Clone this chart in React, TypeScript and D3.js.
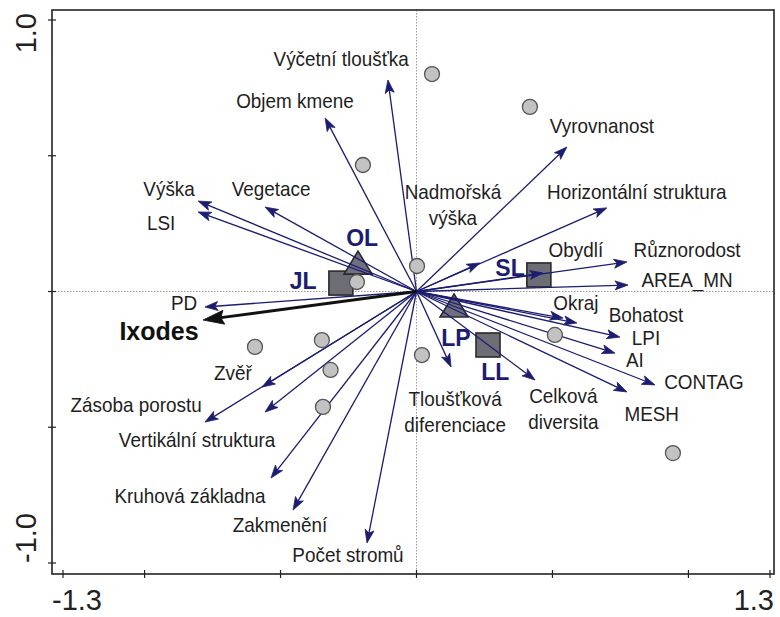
import React, { useEffect, useRef } from "react"
import * as d3 from "d3"

// environmental variables: arrow tip (x, y) and label anchor (lx, ly) in axis units
const envVectors = [
    { name: "Výčetní tloušťka", x: -0.105, y: 0.779, lx: -0.277, ly: 0.86 },
    { name: "Objem kmene", x: -0.336, y: 0.639, lx: -0.447, ly: 0.705 },
    { name: "Výška", x: -0.803, y: 0.333, lx: -0.91, ly: 0.381 },
    { name: "LSI", x: -0.803, y: 0.293, lx: -0.939, ly: 0.256 },
    { name: "Vegetace", x: -0.557, y: 0.311, lx: -0.535, ly: 0.378 },
    { name: "PD", x: -0.778, y: -0.057, lx: -0.855, ly: -0.039 },
    { name: "Zvěř", x: -0.568, y: -0.352, lx: -0.675, ly: -0.3 },
    { name: "Zásoba porostu", x: -0.778, y: -0.481, lx: -1.031, ly: -0.415 },
    { name: "Vertikální struktura", x: -0.557, y: -0.444, lx: -0.807, ly: -0.545 },
    { name: "Kruhová základna", x: -0.535, y: -0.687, lx: -0.833, ly: -0.75 },
    { name: "Zakmenění", x: -0.454, y: -0.805, lx: -0.502, ly: -0.857 },
    { name: "Počet stromů", x: -0.182, y: -0.926, lx: -0.252, ly: -0.967 },
    { name: "Tloušťková\ndiferenciace", x: 0.127, y: -0.278, lx: 0.142, ly: -0.393 },
    { name: "Celková\ndiversita", x: 0.436, y: -0.326, lx: 0.54, ly: -0.382 },
    { name: "MESH", x: 0.774, y: -0.37, lx: 0.865, ly: -0.451 },
    { name: "CONTAG", x: 0.877, y: -0.344, lx: 1.057, ly: -0.333 },
    { name: "AI", x: 0.73, y: -0.227, lx: 0.803, ly: -0.249 },
    { name: "LPI", x: 0.748, y: -0.168, lx: 0.844, ly: -0.171 },
    { name: "Bohatost", x: 0.59, y: -0.116, lx: 0.844, ly: -0.083 },
    { name: "Okraj", x: 0.539, y: -0.098, lx: 0.586, ly: -0.042 },
    { name: "AREA_MN", x: 0.778, y: 0.024, lx: 0.995, ly: 0.046 },
    { name: "Různorodost", x: 0.774, y: 0.109, lx: 0.995, ly: 0.156 },
    { name: "Obydlí", x: 0.465, y: 0.068, lx: 0.586, ly: 0.156 },
    { name: "Nadmořská\nvýška", x: 0.233, y: 0.105, lx: 0.134, ly: 0.37 },
    { name: "Horizontální struktura", x: 0.7, y: 0.308, lx: 0.81, ly: 0.37 },
    { name: "Vyrovnanost", x: 0.553, y: 0.532, lx: 0.682, ly: 0.61 },
]

// species vector
const species = [{ name: "Ixodes", x: -0.785, y: -0.105, lx: -0.947, ly: -0.145 }]

// sample scores
const sampleX = [0.057, 0.417, -0.197, 0.002, -0.219, -0.594, -0.348, -0.316, -0.344, 0.02, 0.509, 0.943]
const sampleY = [0.801, 0.68, 0.466, 0.094, 0.035, -0.204, -0.179, -0.289, -0.425, -0.234, -0.16, -0.595]

// habitat centroids
const centroids = [
    { name: "JL", shape: "square", x: -0.278, y: 0.031, lx: -0.417, ly: 0.039 },
    { name: "OL", shape: "triangle", x: -0.215, y: 0.101, lx: -0.2, ly: 0.199 },
    { name: "SL", shape: "square", x: 0.45, y: 0.061, lx: 0.344, ly: 0.087 },
    { name: "LP", shape: "triangle", x: 0.138, y: -0.057, lx: 0.145, ly: -0.171 },
    { name: "LL", shape: "square", x: 0.263, y: -0.197, lx: 0.29, ly: -0.295 },
]

const xTicks = [-1.3, -1.0, -0.5, 0, 0.5, 1.0, 1.3]
const yTicks = [-1.0, -0.5, 0, 0.5, 1.0]

const W = 780
const H = 617
const NAVY = "#1c1c70"
const FONT = "'Liberation Sans', Arial, Helvetica, sans-serif"

export default function App() {
    const ref = useRef(null)

    useEffect(() => {
        document.body.style.margin = "0"
        const svg = d3.select(ref.current)
        svg.selectAll("*").remove()

        const x = d3.scaleLinear().domain([-1.3, 1.3]).range([63, 770])
        const y = d3.scaleLinear().domain([-1, 1]).range([563, 20])

        const left = x(-1.3) - 11
        const right = x(1.3) + 4
        const top = y(1) - 10
        const bottom = y(-1) + 11

        svg.append("rect").attr("width", W).attr("height", H).attr("fill", "#fff")

        // dotted zero lines
        svg.append("line")
            .attr("x1", left).attr("x2", right)
            .attr("y1", y(0)).attr("y2", y(0))
            .attr("stroke", "#9a9a9a").attr("stroke-width", 1)
            .attr("stroke-dasharray", "1.5,1.5")
        svg.append("line")
            .attr("x1", x(0)).attr("x2", x(0))
            .attr("y1", top).attr("y2", bottom)
            .attr("stroke", "#9a9a9a").attr("stroke-width", 1)
            .attr("stroke-dasharray", "1.5,1.5")

        // frame
        svg.append("rect")
            .attr("x", left).attr("y", top)
            .attr("width", right - left).attr("height", bottom - top)
            .attr("fill", "none").attr("stroke", "#222").attr("stroke-width", 1.6)

        svg.append("g").selectAll("line").data(xTicks).enter().append("line")
            .attr("x1", (d) => x(d)).attr("x2", (d) => x(d))
            .attr("y1", bottom - 4).attr("y2", bottom + 4)
            .attr("stroke", "#222").attr("stroke-width", 1.2)
        svg.append("g").selectAll("line").data(yTicks).enter().append("line")
            .attr("x1", left - 4).attr("x2", left + 4)
            .attr("y1", (d) => y(d)).attr("y2", (d) => y(d))
            .attr("stroke", "#222").attr("stroke-width", 1.2)

        // axis end labels
        const axisText = svg.append("g")
            .attr("font-family", FONT).attr("font-size", 29).attr("fill", "#222")
        axisText.append("text").attr("x", left).attr("y", 610)
            .attr("text-anchor", "start").text("-1.3")
        axisText.append("text").attr("x", right).attr("y", 610)
            .attr("text-anchor", "end").text("1.3")
        axisText.append("text")
            .attr("transform", `translate(36,${top + 3}) rotate(-90)`)
            .attr("text-anchor", "end").text("1.0")
        axisText.append("text")
            .attr("transform", `translate(36,${y(-1)}) rotate(-90)`)
            .attr("text-anchor", "start").text("-1.0")

        // centroids
        const cg = svg.append("g")
        centroids.forEach((c) => {
            const cx = x(c.x)
            const cy = y(c.y)
            if (c.shape === "square") {
                cg.append("rect")
                    .attr("x", cx - 12).attr("y", cy - 12)
                    .attr("width", 24).attr("height", 24)
                    .attr("fill", "#6d6d76").attr("stroke", "#2a2a2a").attr("stroke-width", 1.6)
            } else {
                cg.append("path")
                    .attr("d", `M${cx},${cy - 13} L${cx + 14},${cy + 10} L${cx - 14},${cy + 10} Z`)
                    .attr("fill", "#6f6f80").attr("stroke", "#2a2a2a").attr("stroke-width", 1.6)
            }
        })

        const origin = [x(0), y(0)]
        const drawArrow = (g, tx, ty, color, width, len, half) => {
            const a = Math.atan2(ty - origin[1], tx - origin[0])
            const ca = Math.cos(a)
            const sa = Math.sin(a)
            const nx = tx - (len - 3) * ca
            const ny = ty - (len - 3) * sa
            g.append("line")
                .attr("x1", origin[0]).attr("y1", origin[1])
                .attr("x2", nx).attr("y2", ny)
                .attr("stroke", color).attr("stroke-width", width)
            const bx = tx - len * ca
            const by = ty - len * sa
            g.append("path")
                .attr("d",
                    `M${tx},${ty} L${bx - half * sa},${by + half * ca} L${nx},${ny} L${bx + half * sa},${by - half * ca} Z`)
                .attr("fill", color).attr("stroke", color).attr("stroke-width", 0.8)
        }

        const ag = svg.append("g")
        envVectors.forEach((v) => drawArrow(ag, x(v.x), y(v.y), NAVY, 1.3, 13, 4.5))
        species.forEach((s) => drawArrow(ag, x(s.x), y(s.y), "#111", 3, 21, 7))

        // samples
        svg.append("g").selectAll("circle").data(sampleX).enter().append("circle")
            .attr("cx", (d) => x(d))
            .attr("cy", (d, i) => y(sampleY[i]))
            .attr("r", 7.5)
            .attr("fill", "#c2c2c2").attr("stroke", "#555").attr("stroke-width", 1.3)

        // variable labels (narrow sans, as in the source figure)
        const lg = svg.append("g")
            .attr("font-family", FONT).attr("font-size", 21).attr("fill", "#1e1e1e")
        envVectors.forEach((v) => {
            const lines = v.name.split("\n")
            const t = lg.append("text")
                .attr("transform", `translate(${x(v.lx)},${y(v.ly)}) scale(0.9,1)`)
                .attr("text-anchor", "middle")
            lines.forEach((ln, i) => {
                t.append("tspan").attr("x", 0).attr("y", 7.5 + i * 26).text(ln)
            })
        })

        species.forEach((s) => {
            svg.append("text")
                .attr("x", x(s.lx)).attr("y", y(s.ly) + 9)
                .attr("text-anchor", "middle")
                .attr("font-family", FONT).attr("font-size", 25)
                .attr("font-weight", "bold").attr("fill", "#111")
                .text(s.name)
        })

        svg.append("g").selectAll("text").data(centroids).enter().append("text")
            .attr("x", (d) => x(d.lx)).attr("y", (d) => y(d.ly) + 8.5)
            .attr("text-anchor", "middle")
            .attr("font-family", FONT).attr("font-size", 23)
            .attr("font-weight", "bold").attr("fill", NAVY)
            .text((d) => d.name)
    }, [])

    return (
        <svg ref={ref} width={W} height={H} style={{ display: "block" }} />
    )
}
